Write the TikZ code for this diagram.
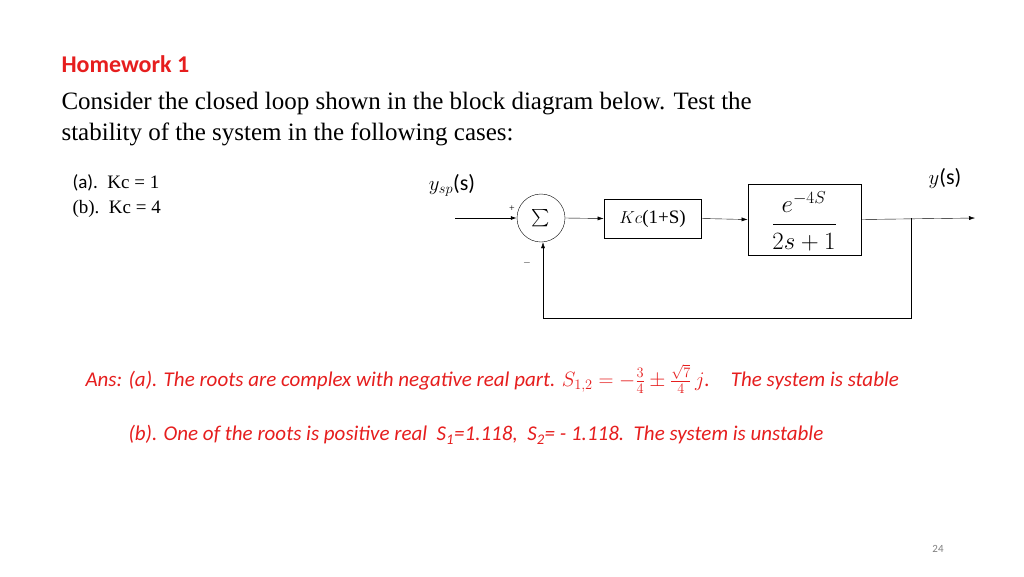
\documentclass[tikz,border=0pt]{standalone}
\usepackage{fontspec}
\usepackage{amsmath}
\setmainfont{Liberation Serif}
\newfontfamily\carl{Carlito}
\usetikzlibrary{arrows.meta}
\definecolor{hwred}{RGB}{230,30,30}
\begin{document}
\begin{tikzpicture}[x=1pt,y=-1pt,
  blk/.style={draw,thick,inner sep=0pt},
  sig/.style={-{Latex[length=6pt,width=4pt]}},
  ans/.style={anchor=west,text=hwred,font=\carl\itshape\fontsize{21}{24}\selectfont}]
\useasboundingbox[fill=white] (0,0) rectangle (1024,576);
\node[anchor=west,text=hwred,font=\carl\bfseries\fontsize{24}{28}\selectfont] (hw) at (58,64) {Homework 1};
\node[anchor=west,font=\fontsize{25}{30}\selectfont] (l1) at (58,104) {Consider the closed loop shown in the block diagram below. Test the};
\node[anchor=west,font=\fontsize{25}{30}\selectfont] (l2) at (58,134) {stability of the system in the following cases:};
\node[anchor=west,font=\fontsize{19}{22}\selectfont] (ca) at (69,183) {{\carl(a).}\ \ Kc = 1};
\node[anchor=west,font=\fontsize{19}{22}\selectfont] (cb) at (69,209) {(b).\ \ Kc = 4};
\node[draw,circle,minimum size=48pt,inner sep=0pt] (sum) at (541,218) {\LARGE$\sum$};
\node[blk,minimum width=97pt,minimum height=39pt] (kc) at (652.5,218.5) {\fontsize{19}{22}\selectfont$Kc$(1+S)};
\node[blk,minimum width=113pt,minimum height=71pt] (pl) at (804.5,219.5) {};
\node (num) at (804,202) {\fontsize{23}{26}\selectfont$e^{-4S}$};
\node (den) at (804,242) {\fontsize{23}{26}\selectfont$2s+1$};
\draw[thick] (773,224) -- (836,224);
\coordinate (in) at (455,218);
\coordinate (out) at (975,218);
\coordinate (br) at (911,218);
\coordinate (fb) at (911,318);
\coordinate (fb2) at (543,318);
\draw[sig,thick] (in) -- (sum.west);
\draw[sig] (sum.east) -- (kc.west);
\draw[sig] (kc.east) -- (pl.west);
\draw[sig] (pl.east) -- (out);
\draw[sig] (br) -- (fb) -- (fb2) -- (sum.south -| fb2);
\node[font=\normalsize] (plus) at (512,209) {+};
\node[font=\normalsize] (minus) at (527,263) {$-$};
\node (ysp) at (452,185) {\fontsize{22}{24}\selectfont$y_{sp}${\carl(s)}};
\node (ys) at (945,178) {\fontsize{22}{24}\selectfont$y${\carl(s)}};
\node[ans] (a1) at (82,379) {Ans: (a). The roots are complex with negative real part. {\upshape$S_{1,2}=-\frac{3}{4}\pm\frac{\sqrt7}{4}\,j$}.\quad The system is stable};
\node[ans] (b1) at (125,435) {(b). One of the roots is positive real\ \ S\textsubscript{1}=1.118,\ \ S\textsubscript{2}= - 1.118.\ \ The system is unstable};
\node[text=gray,font=\carl\fontsize{11}{12}\selectfont] (pg) at (938,549) {24};
\end{tikzpicture}
\end{document}
